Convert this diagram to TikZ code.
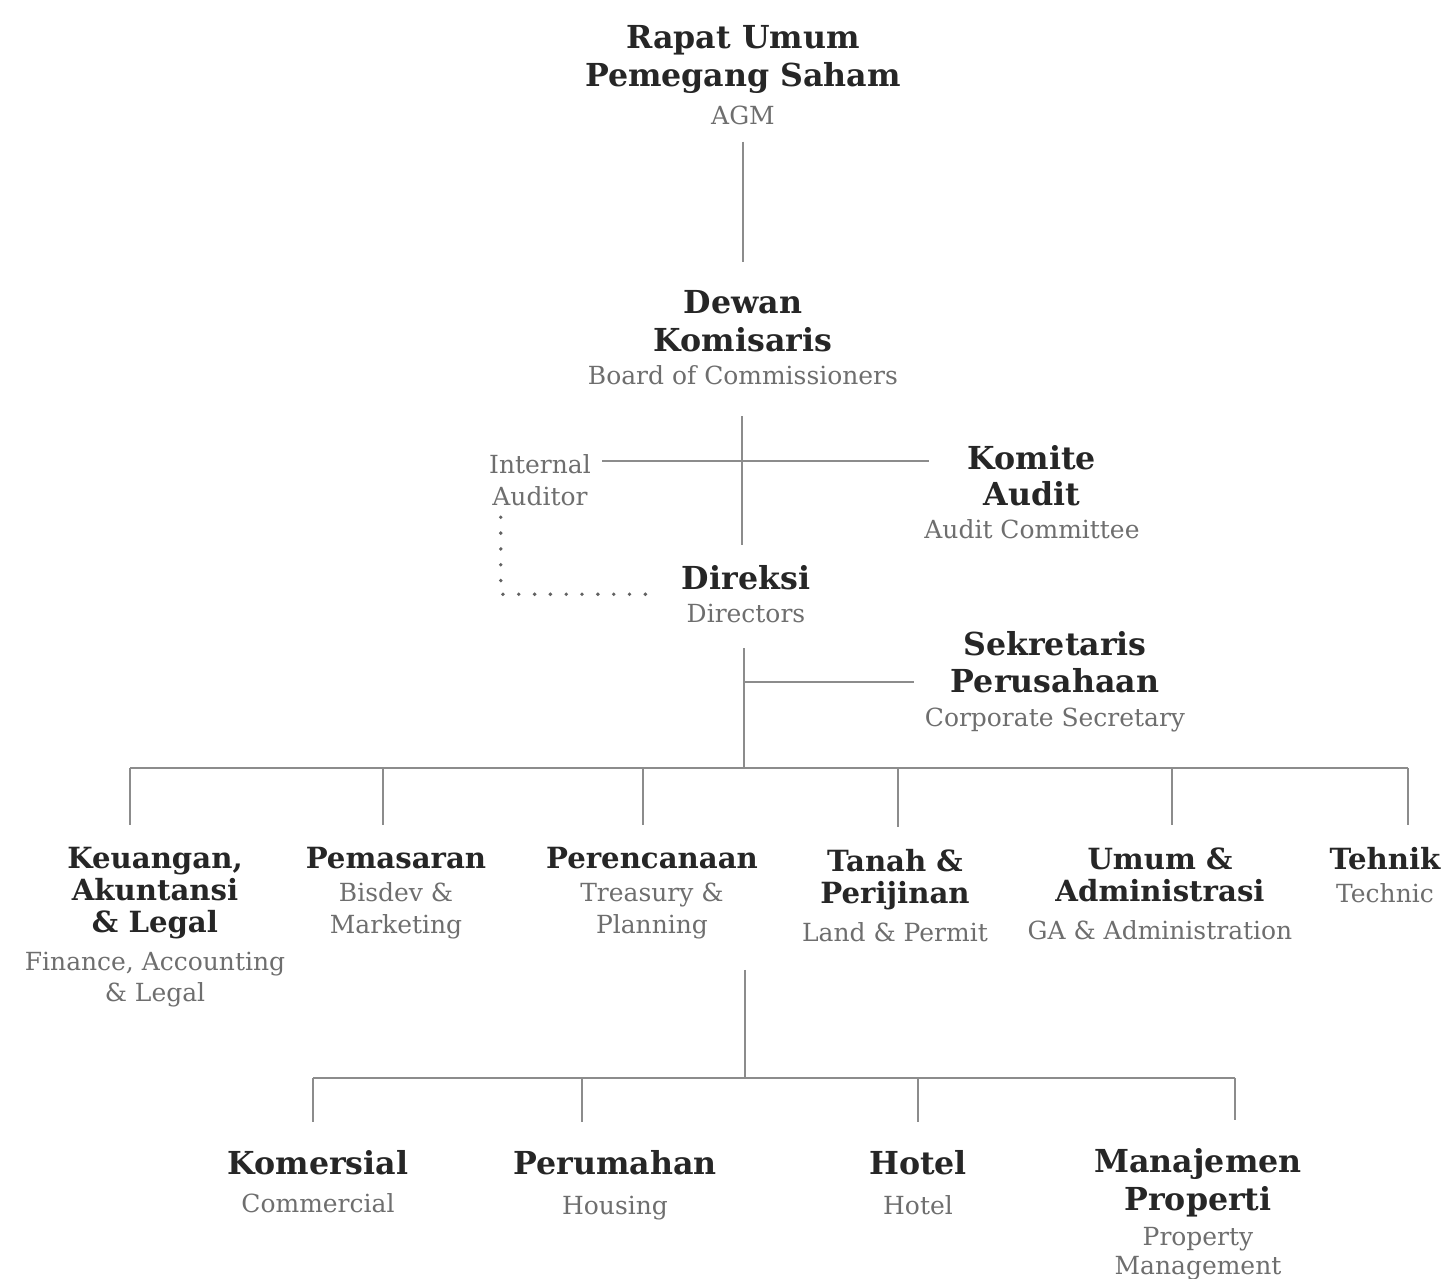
\documentclass[tikz,border=0pt]{standalone}
\usepackage{fontspec}
\setmainfont{DejaVu Serif}
\usepackage{tikz}
\definecolor{headcol}{HTML}{262626}
\definecolor{subcol}{HTML}{6E6E6E}
\definecolor{linecol}{HTML}{8C8C8C}
\newcommand{\hd}{\fontsize{9}{10.8}\selectfont\bfseries\color{headcol}}
\newcommand{\hds}{\fontsize{8.3}{10.8}\selectfont\bfseries\color{headcol}}
\newcommand{\subt}{\fontsize{7.1}{10.8}\selectfont\mdseries\color{subcol}}
\tikzstyle{unit} = [anchor=north, align=center, inner sep=0pt, font=\hd]
\tikzstyle{div} = [unit, font=\hds]
\tikzstyle{conn} = [draw=linecol, line width=0.6pt]
\tikzstyle{dotline} = [draw=linecol!70!black, line width=1.1pt, line cap=round, dash pattern=on 0pt off 4.5pt]

\begin{document}
\begin{tikzpicture}[x=0.01cm, y=-0.01cm]
      \useasboundingbox (0,0) rectangle (1441,1279);

      \node[unit] (rups) at (743,25) {Rapat Umum\\Pemegang Saham\\\subt AGM};
      \node[unit] (dekom) at (743,290) {Dewan\\Komisaris\\[-1.5pt]\subt Board of Commissioners};
      \node[unit, font=\subt] (ia) at (540,454) {Internal\\[-1.7pt]Auditor};
      \node[unit] (kom) at (1032,445) {Komite\\[-0.6pt]Audit\\[-1.5pt]\subt Audit Committee};
      \node[unit] (dir) at (746,565) {Direksi\\[-1.5pt]\subt Directors};
      \node[unit] (sek) at (1055,631) {Sekretaris\\[-0.3pt]Perusahaan\\[-1.3pt]\subt Corporate Secretary};

      % divisi
      \node[div] (keu) at (155,847) {Keuangan,\\[-1.7pt]Akuntansi\\[-1.7pt]\& Legal\\\subt Finance, Accounting\\[-2pt]\subt \& Legal};
      \node[div] (pem) at (396,847) {Pemasaran\\[-1.6pt]\subt Bisdev \&\\[-1.7pt]\subt Marketing};
      \node[div] (per) at (652,847) {Perencanaan\\[-1.6pt]\subt Treasury \&\\[-1.7pt]\subt Planning};
      \node[div] (tan) at (895,849) {Tanah \&\\[-1.7pt]Perijinan\\\subt Land \& Permit};
      \node[div] (umu) at (1160,847) {Umum \&\\[-1.7pt]Administrasi\\\subt GA \& Administration};
      \node[div] (tek) at (1385,847) {Tehnik\\[-1.6pt]\subt Technic};

      % unit usaha
      \node[unit] (kms) at (318,1150) {Komersial\\\subt Commercial};
      \node[unit] (prm) at (615,1150) {Perumahan\\[0.4pt]\subt Housing};
      \node[unit] (htl) at (918,1150) {Hotel\\[0.4pt]\subt Hotel};
      \node[unit] (mjp) at (1198,1148) {Manajemen\\Properti\\[-0.9pt]\subt Property\\[-2.6pt]\subt Management};

      \coordinate (audy) at (742,461);
      \coordinate (bus) at (744,768);
      \coordinate (subtop) at (745,970);
      \coordinate (subbus) at (745,1078);

      \draw[conn, shorten <=4.5pt, shorten >=8pt] (rups) -- (dekom);
      \draw[conn, shorten <=8.8pt, shorten >=5.7pt] (dekom.south -| audy) -- (dir.north -| audy);
      \draw[conn, shorten >=-1.5pt] ([xshift=3pt]ia.east |- audy) -- (kom.west |- audy);
      \draw[dotline] ([xshift=3.5pt,yshift=-3pt]ia.south west) |- ([xshift=-7.4pt]dir.west);

      \draw[conn, shorten <=7pt] (dir.south -| bus) -- (bus);
      \draw[conn] ([xshift=-3pt]sek.west) -- (sek.west -| bus);
      \foreach \n/\x in {keu/130, pem/383, per/643, tan/898, umu/1172, tek/1408}
        \coordinate (\n-top) at (\x,768);
      \draw[conn] (keu-top) -- (tek-top);
      \foreach \n in {keu, pem, per, tan, umu, tek}
        \draw[conn, shorten >=6.2pt] (\n-top) -- (\n.north -| \n-top);

      \draw[conn] (subtop) -- (subbus);
      \foreach \n/\x in {kms/313, prm/582, htl/918, mjp/1235}
        \coordinate (\n-top) at (\x,1078);
      \draw[conn] (kms-top) -- (mjp-top);
      \foreach \n in {kms, prm, htl, mjp}
        \draw[conn, shorten >=8pt] (\n-top) -- (\n.north -| \n-top);
\end{tikzpicture}
\end{document}
